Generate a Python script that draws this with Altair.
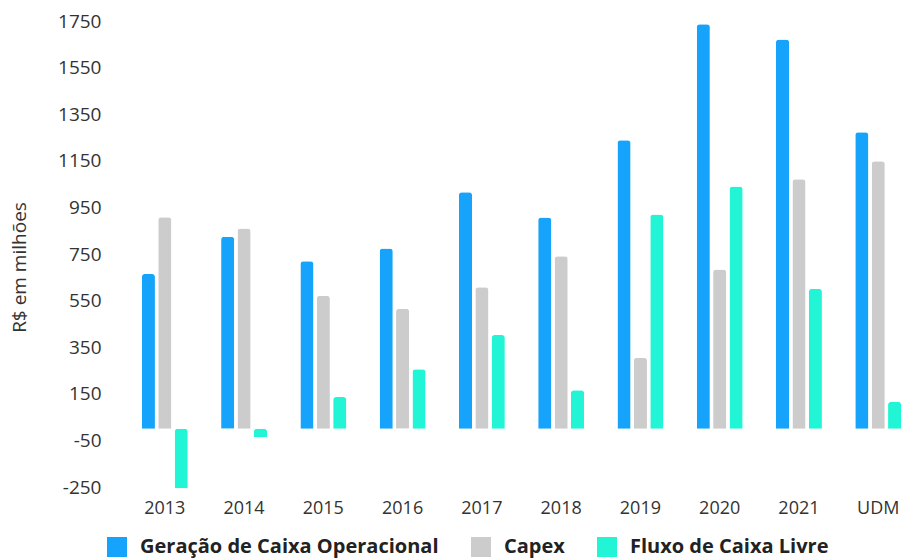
import altair as alt
import pandas as pd

# Cash-flow figures (R$ millions) per year
periods = ["2013", "2014", "2015", "2016", "2017", "2018", "2019", "2020", "2021", "UDM"]
geracao_caixa = [664, 824, 719, 774, 1015, 907, 1238, 1736, 1671, 1272]
capex = [908, 859, 571, 515, 607, 740, 305, 683, 1071, 1148]
fluxo_livre = [-255, -37, 136, 255, 402, 165, 920, 1040, 600, 115]

series_names = ["Geração de Caixa Operacional", "Capex", "Fluxo de Caixa Livre"]
series_colors = ["#16A3FC", "#CCCCCC", "#21F5D6"]
y_ticks = [-250, -50, 150, 350, 550, 750, 950, 1150, 1350, 1550, 1750]

rows = []
for name, values in zip(series_names, [geracao_caixa, capex, fluxo_livre]):
    for period, value in zip(periods, values):
        rows.append({"periodo": period, "serie": name, "valor": value})
df = pd.DataFrame(rows)

FONT = "Open Sans"

bars = alt.Chart(df).mark_bar(cornerRadiusEnd=3).encode(
    x=alt.X(
        "periodo:N",
        sort=periods,
        title=None,
        scale=alt.Scale(paddingInner=0.4, paddingOuter=0),
        axis=alt.Axis(
            domain=False,
            ticks=False,
            labelAngle=0,
            labelPadding=12,
            labelFont=FONT,
            labelFontSize=18,
            labelColor="#333333",
        ),
    ),
    xOffset=alt.XOffset(
        "serie:N",
        sort=series_names,
        scale=alt.Scale(paddingInner=0.2, paddingOuter=0.05),
    ),
    y=alt.Y(
        "valor:Q",
        scale=alt.Scale(domain=[-250, 1750], nice=False, zero=False),
        title="R$ em milhões",
        axis=alt.Axis(
            values=y_ticks,
            labelExpr="'' + datum.value",
            domain=False,
            ticks=False,
            grid=False,
            labelPadding=40,
            labelFont=FONT,
            labelFontSize=19,
            labelColor="#333333",
            titleFont=FONT,
            titleFontSize=19,
            titleFontWeight="normal",
            titleColor="#333333",
            titleAngle=-90,
            titleAlign="center",
            titleBaseline="middle",
            titleX=-122,
            titleY=246,
        ),
    ),
    color=alt.Color(
        "serie:N",
        sort=series_names,
        scale=alt.Scale(domain=series_names, range=series_colors),
        legend=alt.Legend(
            title=None,
            orient="none",
            direction="horizontal",
            legendX=-34,
            legendY=516,
            symbolType="square",
            symbolSize=400,
            symbolStrokeWidth=0,
            labelFont=FONT,
            labelFontSize=20,
            labelFontWeight="bold",
            labelColor="#222222",
            labelLimit=500,
            labelOffset=13,
            columnPadding=32,
        ),
    ),
)

chart = bars.properties(
    width=761,
    height=466,
    background="white",
    autosize=alt.AutoSizeParams(type="none"),
    padding={"left": 141, "top": 21, "right": 1, "bottom": 72},
).configure_view(strokeWidth=0, stroke=None)

chart.save("out.html", embed_options={"renderer": "svg", "actions": False})
